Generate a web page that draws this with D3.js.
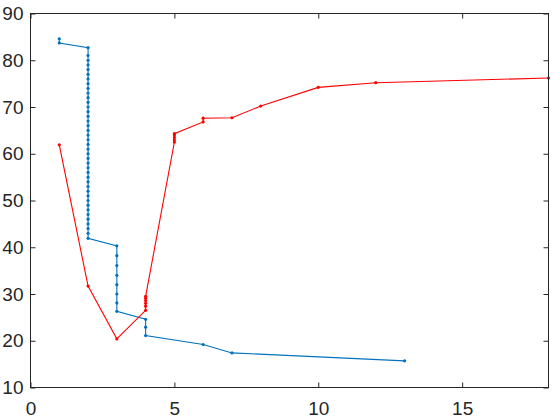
<!DOCTYPE html>
<html>
<meta charset="utf-8">
<head>
<style>
body { margin:0; padding:0; background:#fff; }
svg { display:block; }
.tick text { font-family: "Liberation Sans", Arial, sans-serif; font-size:19px; fill:#262626; }
.axis path, .axis line { stroke:#262626; }
</style>
</head>
<body>
<svg></svg>
<script src="https://cdnjs.cloudflare.com/ajax/libs/d3/7.8.5/d3.min.js"></script>
<script>

var width = 560, height = 420;

// blue series
var blueX = [1, 1, 2, 2, 2, 2, 2, 2, 2, 2, 2, 2, 2, 2, 2, 2, 2, 2, 2, 2, 2, 2, 2, 2, 2, 2, 2, 2, 2, 2, 2, 2, 2, 2, 2, 2, 2, 2, 2, 2, 2, 2, 2,
             3, 3, 3, 3, 3, 3, 3, 3, 4, 4, 4, 6, 7, 13];
var blueY = [84.6, 83.7, 82.7, 81, 80, 79, 78, 77, 76, 75, 74, 73, 72, 71, 70, 69, 68, 67, 66, 65, 64, 63, 62, 61, 60,
             59, 58, 57, 56, 55, 54, 53, 52, 51, 50, 49, 48, 47, 46, 45, 44, 43, 41.9,
             40.3, 38.2, 36.1, 34.0, 32.0, 30.0, 28.1, 26.3, 24.6, 22.9, 21.1, 19.2, 17.4, 15.7];

// red series
var redX = [1, 2, 3, 4, 4, 4, 4, 4, 4, 5, 5, 5, 5, 5, 6, 6, 7, 8, 10, 12, 18];
var redY = [61.9, 31.7, 20.4, 26.5, 27.4, 28.0, 28.6, 29.1, 29.5, 62.5, 63.0, 63.5, 64.0, 64.3, 66.8, 67.6, 67.7, 70.2, 74.2, 75.2, 76.2];

var xTicks = [0, 5, 10, 15];
var yTicks = [10, 20, 30, 40, 50, 60, 70, 80, 90];

var plotL = 30.5, plotR = 548.5, plotT = 13.5, plotB = 387.5;

var svg = d3.select("svg")
  .attr("width", width)
  .attr("height", height);

var x = d3.scaleLinear().domain([0, 18]).range([plotL, plotR]);
var y = d3.scaleLinear().domain([10, 90]).range([plotB, plotT]);

function series(xs, ys, color) {
  var pts = xs.map(function(d, i) { return [d, ys[i]]; });
  var line = d3.line()
    .x(function(d) { return x(d[0]); })
    .y(function(d) { return y(d[1]); });
  svg.append("path")
    .datum(pts)
    .attr("fill", "none")
    .attr("stroke", color)
    .attr("stroke-width", 1.1)
    .attr("d", line);
  svg.append("g").selectAll("circle")
    .data(pts)
    .enter().append("circle")
      .attr("cx", function(d) { return x(d[0]); })
      .attr("cy", function(d) { return y(d[1]); })
      .attr("r", 1.6)
      .attr("fill", color);
}

series(blueX, blueY, "#0072BD");
series(redX, redY, "#FF0000");

// axes, box on with inward ticks
svg.append("g").attr("class", "axis")
  .attr("transform", "translate(0," + plotB + ")")
  .call(d3.axisBottom(x).tickValues(xTicks).tickSizeInner(-5).tickSizeOuter(0).tickPadding(14))
  .call(function(g) { g.selectAll("text").attr("dy", "0.71em"); });

svg.append("g").attr("class", "axis")
  .attr("transform", "translate(0," + plotT + ")")
  .call(d3.axisTop(x).tickValues(xTicks).tickSizeInner(-5).tickSizeOuter(0).tickFormat(""));

svg.append("g").attr("class", "axis")
  .attr("transform", "translate(" + plotL + ",0)")
  .call(d3.axisLeft(y).tickValues(yTicks).tickSizeInner(-5).tickSizeOuter(0).tickPadding(7));

svg.append("g").attr("class", "axis")
  .attr("transform", "translate(" + plotR + ",0)")
  .call(d3.axisRight(y).tickValues(yTicks).tickSizeInner(-5).tickSizeOuter(0).tickFormat(""));

svg.selectAll(".axis .domain").remove();

svg.append("rect")
  .attr("x", plotL).attr("y", plotT)
  .attr("width", plotR - plotL).attr("height", plotB - plotT)
  .attr("fill", "none")
  .attr("stroke", "#262626")
  .attr("stroke-width", 1);

</script>
</body>
</html>
